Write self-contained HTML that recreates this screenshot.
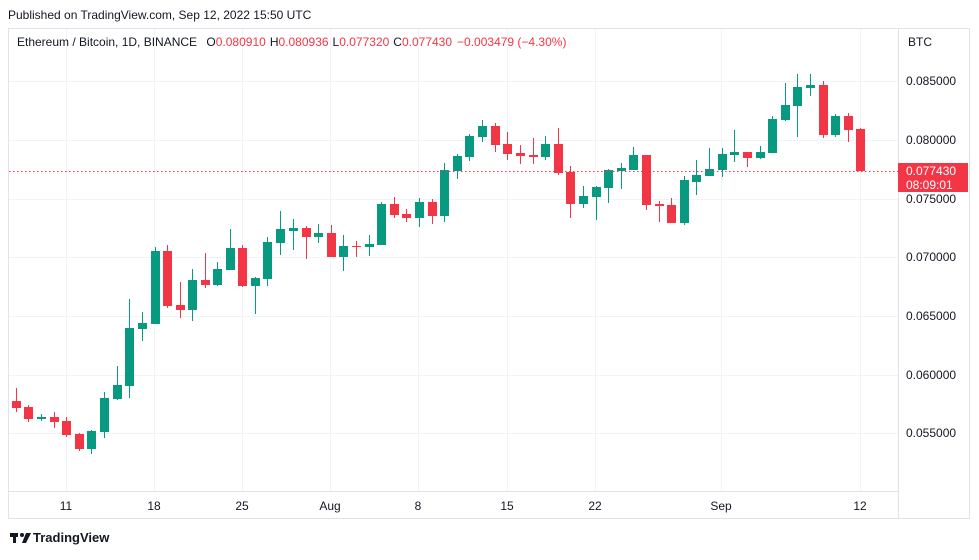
<!DOCTYPE html>
<html><head><meta charset="utf-8"><style>
body{margin:0;background:#fff;width:979px;height:555px;overflow:hidden;font-family:"Liberation Sans",sans-serif;}
svg text{font-family:"Liberation Sans",sans-serif;}
</style></head><body>
<svg id="s" width="979" height="555" xmlns="http://www.w3.org/2000/svg">
<rect x="0" y="0" width="979" height="555" fill="#fff"/>
<text x="8" y="19" font-size="12" fill="#131722">Published on TradingView.com, Sep 12, 2022 15:50 UTC</text>
<rect x="8.5" y="28.5" width="961" height="490" fill="none" stroke="#e0e3eb"/>
<line x1="898.5" y1="28" x2="898.5" y2="519" stroke="#e0e3eb"/>
<line x1="8" y1="491.5" x2="898" y2="491.5" stroke="#e0e3eb"/>
<g id="grid" stroke="#f0f3fa" stroke-width="1"></g>
<g id="c"></g>
<line x1="9" y1="171.5" x2="898" y2="171.5" stroke="#f23645" stroke-dasharray="1.5,2.5"/>
<g font-size="12" fill="#131722" id="yl"></g>
<rect x="898" y="163" width="70" height="29" fill="#f23645"/>
<text x="906" y="175" font-size="12" fill="#fff">0.077430</text>
<text x="906" y="189" font-size="12" fill="#fff">08:09:01</text>
<text x="908" y="46" font-size="12" fill="#131722">BTC</text>
<g font-size="12" fill="#131722" id="xl"></g>
<text x="17" y="46" font-size="12" fill="#131722">Ethereum / Bitcoin, 1D, BINANCE <tspan dx="6">O</tspan><tspan fill="#f23645">0.080910</tspan><tspan dx="4">H</tspan><tspan fill="#f23645">0.080936</tspan><tspan dx="4">L</tspan><tspan fill="#f23645">0.077320</tspan><tspan dx="4">C</tspan><tspan fill="#f23645">0.077430</tspan><tspan dx="5" fill="#f23645">−0.003479 (−4.30%)</tspan></text>
<g transform="translate(10,531)"><rect x="0" y="2" width="8" height="4" fill="#131722"/><rect x="3" y="2" width="3" height="10" fill="#131722"/><circle cx="12" cy="4" r="2" fill="#131722"/><path d="M16 2h5l-5 10h-4z" fill="#131722"/></g>
<text x="33" y="542" font-size="13" font-weight="bold" fill="#131722">TradingView</text>
</svg>
<script>
var d=[
[15.5,0,401,408,388,412],[28,0,407,419,405,422],[41,1,417,419,414,421],[53.5,0,417,422,412,428],[66,0,421,435,417,437],[78.5,0,434,449,433,451],[91,1,431,449,430,454],[104,1,398,432,392,438],[116.5,1,385,399,366,400],[129,1,328,386,299,398],[142,1,323,329,312,341],[154.5,1,251,324,247,324],[167,0,251,306,245,308],[179.5,0,305,310,282,318],[192,1,280,310,269,321],[204.5,0,280,285,253,288],[217,1,269,285,262,286],[229.5,1,248,270,229,270],[242,0,248,286,245,287],[254.5,1,278,286,277,314],[267,1,242,279,237,286],
[280,1,229,243,211,255],[293,1,228,231,219,250],[306,0,228,237,226,259],[318,1,233,237,224,243],[331,0,233,257,225,257],[343,1,246,257,235,271],[356,0,246,247,241,257],[369,1,244,247,235,256],[381,1,204,245,202,245],[394,0,204,215,197,218],[406,0,214,218,209,222],[419,1,202,218,198,227],[432,0,202,216,199,224],[444,1,170,216,163,222],[457,1,156,171,154,179],[469,1,136,157,134,161],[482,1,126,137,120,142],[495,0,126,145,123,152],[507,0,144,154,132,160],[520,0,153,156,145,164],[533,0,155,157,138,164],[545,1,144,157,136,160],[558,0,144,173,128,175],
[570,0,172,204,166,218],[583,1,196,204,186,208],[596,1,187,197,186,220],[608,1,170,188,169,203],[621,1,168,171,163,189],[633,1,155,170,147,170],[646,0,155,205,155,210],[659,0,204,206,201,222],[671,0,205,223,198,223],[684,1,180,223,176,225],[696,1,175,182,160,195],[709,1,169,176,148,176],[722,1,154,170,148,177],[734,1,152,155,130,162],[747,0,152,158,152,167],[760,1,152,158,146,159],[772,1,119,153,116,153],[785,1,105,120,83,121],[797,1,87,106,74,137],[810,1,85,88,74,96],[823,0,85,135,81,138],[835,1,116,135,114,137],[848,0,116,130,113,142],[860,0,129,171,128,171]];
var ns="http://www.w3.org/2000/svg",h="";
d.forEach(function(c){var col=c[1]?"#089981":"#f23645";var x=Math.round(c[0]);
h+='<rect x="'+(x)+'" y="'+c[4]+'" width="1" height="'+(c[5]-c[4])+'" fill="'+col+'"/>';
h+='<rect x="'+(x-4)+'" y="'+c[2]+'" width="9" height="'+Math.max(1,c[3]-c[2])+'" fill="'+col+'"/>';});
document.getElementById("c").innerHTML=h;
var g="",yl="";
[["0.085000",81],["0.080000",140],["0.075000",199],["0.070000",257],["0.065000",316],["0.060000",375],["0.055000",433]].forEach(function(p){
g+='<line x1="9" y1="'+(p[1]+.5)+'" x2="898" y2="'+(p[1]+.5)+'"/>';yl+='<text x="906" y="'+(p[1]+4)+'">'+p[0]+'</text>';});
var xl="";
[["11",66],["18",154],["25",242],["Aug",330],["8",418],["15",507],["22",595],["Sep",721],["12",860]].forEach(function(p){
g+='<line x1="'+(p[1]+.5)+'" y1="29" x2="'+(p[1]+.5)+'" y2="491"/>';xl+='<text x="'+p[1]+'" y="510" text-anchor="middle">'+p[0]+'</text>';});
document.getElementById("grid").innerHTML=g;document.getElementById("yl").innerHTML=yl;document.getElementById("xl").innerHTML=xl;
</script>
</body></html>
